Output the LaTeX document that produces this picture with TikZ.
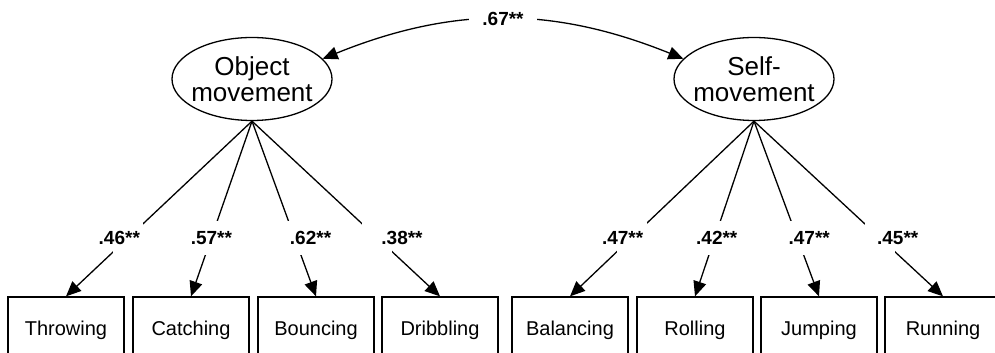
\documentclass[tikz,border=0pt]{standalone}
\usepackage{fontspec}
\setmainfont{Liberation Sans}
\usetikzlibrary{shapes.geometric,arrows.meta}

\tikzset{
  factor/.style={draw, ellipse, minimum width=160pt, minimum height=83pt,
    inner xsep=-6pt, inner ysep=0pt, align=center,
    font=\fontsize{26}{26}\selectfont},
  item/.style={draw, rectangle, minimum width=116pt, minimum height=66pt,
    font=\fontsize{20}{24}\selectfont},
  coef/.style={font=\fontsize{19}{22}\selectfont\bfseries, inner sep=1pt},
  gap/.style={fill=white, minimum width=30pt, minimum height=34pt, inner sep=0pt}
}

\begin{document}
\begin{tikzpicture}[x=1pt, y=1pt, line width=1.3pt, >={Triangle[length=15pt,width=13pt]}]
\useasboundingbox (0,0) rectangle (995,353);
\node[factor] (om) at (252,274) {Object\\movement};
\node[factor] (sm) at (754,274) {Self-\\movement};
% observed skills
\foreach \n/\x/\txt in {throw/66/Throwing, catch/191/Catching, bounce/316/Bouncing,
  dribble/440/Dribbling, balance/570/Balancing, roll/695/Rolling, jump/819/Jumping,
  run/943/Running}
  \node[item] (\n) at (\x,23) {\txt};
% loadings
\foreach \lat/\n/\val/\dx in {om/throw/.46/-9pt, om/catch/.57/0pt, om/bounce/.62/16pt,
  om/dribble/.38/25pt, sm/balance/.47/-9pt, sm/roll/.42/2pt, sm/jump/.47/12pt,
  sm/run/.45/18pt}
  \draw[->] (\lat.south) -- node[gap, pos=.665, label={[coef, xshift=\dx]center:\val**}] (g-\n) {} (\n.north);
% correlation
\draw[<->] (om.16) to[bend left=22] node[coef, fill=white, inner xsep=13pt] (r) {.67**} (sm.164);
\end{tikzpicture}
\end{document}
